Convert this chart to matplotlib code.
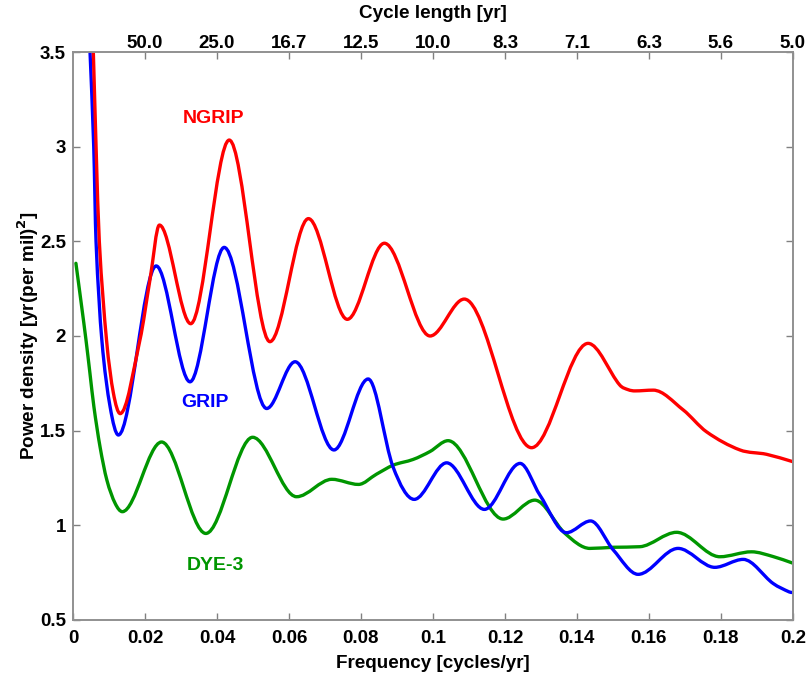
import numpy as np
import matplotlib
matplotlib.use('Agg')
import matplotlib.pyplot as plt
from matplotlib.path import Path
from matplotlib.patches import PathPatch

plt.rcParams['font.family'] = ['Liberation Sans', 'DejaVu Sans']
plt.rcParams['font.weight'] = 'bold'

# values (frequency in cycles/yr, power density)
ngrip_f = [0.0050, 0.00564, 0.0064, 0.0073, 0.0093, 0.0112, 0.0131, 0.0186,
           0.0214, 0.0240, 0.0327, 0.0434, 0.0547, 0.0654, 0.0762, 0.0865, 0.0992,
           0.1087, 0.1274, 0.1431, 0.1519, 0.1543, 0.1561, 0.1612,
           0.1695, 0.1760, 0.1853, 0.1927, 0.2000]
ngrip_p = [3.88, 3.50, 3.00, 2.50, 1.98, 1.70, 1.59, 1.98,
           2.30, 2.586, 2.065, 3.035, 1.97, 2.62, 2.088, 2.49, 2.00,
           2.195, 1.41, 1.961, 1.741, 1.716, 1.71, 1.714,
           1.61, 1.494, 1.398, 1.375, 1.336]

grip_f = [0.0040, 0.00472, 0.00575, 0.00639, 0.0080, 0.0103, 0.0126,
          0.0231, 0.0325, 0.0420, 0.0538, 0.0617, 0.0725, 0.0820, 0.0889,
          0.0948, 0.1038, 0.1143, 0.1242, 0.1297, 0.1371, 0.1438, 0.1501, 0.1570,
          0.1681, 0.1783, 0.1862, 0.1945, 0.1990, 0.2000]
grip_p = [3.86, 3.50, 3.00, 2.50, 1.98, 1.626, 1.477,
          2.37, 1.758, 2.468, 1.617, 1.864, 1.398, 1.773, 1.309,
          1.137, 1.33, 1.084, 1.327, 1.16, 0.961, 1.023, 0.87, 0.741,
          0.878, 0.778, 0.82, 0.693, 0.648, 0.645]

dye3_f = [0.0008, 0.0024, 0.0036, 0.0047, 0.0058, 0.0075, 0.0094, 0.0117, 0.0137,
          0.0246, 0.0369, 0.0499, 0.0621, 0.0719, 0.0793, 0.0843,
          0.0890, 0.0945, 0.0992, 0.1042, 0.1195, 0.1283, 0.1367,
          0.1436, 0.1501, 0.1575, 0.1677, 0.1797, 0.1885, 0.1945, 0.2000]
dye3_p = [2.384, 2.155, 1.979, 1.803, 1.626, 1.415, 1.239, 1.116, 1.072,
          1.44, 0.957, 1.465, 1.151, 1.243, 1.216, 1.27,
          1.318, 1.348, 1.39, 1.447, 1.033, 1.133, 0.957,
          0.878, 0.884, 0.887, 0.963, 0.834, 0.86, 0.835, 0.80]

x_ticks = [0, 0.02, 0.04, 0.06, 0.08, 0.1, 0.12, 0.14, 0.16, 0.18, 0.2]
x_ticklabels = ['0', '0.02', '0.04', '0.06', '0.08', '0.1', '0.12', '0.14', '0.16', '0.18', '0.2']
y_ticks = [0.5, 1, 1.5, 2, 2.5, 3, 3.5]
y_ticklabels = ['0.5', '1', '1.5', '2', '2.5', '3', '3.5']
top_ticks = [0.02, 0.04, 0.06, 0.08, 0.1, 0.12, 0.14, 0.16, 0.18, 0.2]
top_ticklabels = ['50.0', '25.0', '16.7', '12.5', '10.0', '8.3', '7.1', '6.3', '5.6', '5.0']


def smooth_path(x, y):
    # bezier curve through the read points, flat tangent at local extrema
    x = np.asarray(x, float)
    y = np.asarray(y, float)
    h = np.diff(x)
    d = np.diff(y) / h
    m = np.zeros_like(x)
    m[0], m[-1] = d[0], d[-1]
    for k in range(1, len(x) - 1):
        if d[k - 1] * d[k] > 0:
            m[k] = (y[k + 1] - y[k - 1]) / (x[k + 1] - x[k - 1])
            # keep it from overshooting
            lim = 3 * min(abs(d[k - 1]), abs(d[k]))
            if abs(m[k]) > lim:
                m[k] = np.sign(m[k]) * lim
    verts = [(x[0], y[0])]
    codes = [Path.MOVETO]
    for k in range(len(x) - 1):
        verts += [(x[k] + h[k] / 3, y[k] + m[k] * h[k] / 3),
                  (x[k + 1] - h[k] / 3, y[k + 1] - m[k + 1] * h[k] / 3),
                  (x[k + 1], y[k + 1])]
        codes += [Path.CURVE4] * 3
    return Path(verts, codes)


fig = plt.figure(figsize=(8.07, 6.73), dpi=100)
ax = fig.add_axes([0.0905, 0.0788, 0.892, 0.8439])

red = '#ff0000'
blue = '#0000ff'
green = '#009600'

for f, p, c in [(dye3_f, dye3_p, green), (grip_f, grip_p, blue), (ngrip_f, ngrip_p, red)]:
    ax.add_patch(PathPatch(smooth_path(f, p), fill=False, edgecolor=c, lw=2.4,
                           joinstyle='round', capstyle='round'))

ax.set_xlim(0, 0.2)
ax.set_ylim(0.5, 3.5)
ax.set_xticks(x_ticks)
ax.set_xticklabels(x_ticklabels)
ax.set_yticks(y_ticks)
ax.set_yticklabels(y_ticklabels)
ax.tick_params(axis='x', pad=7)
ax.tick_params(direction='in', length=5, width=1, color='#808080', labelsize=13.5,
               right=True, top=False)
ax.tick_params(axis='y', pad=5)
for s in ax.spines.values():
    s.set_color('#909090')
    s.set_linewidth(1.2)

ax.set_xlabel('Frequency [cycles/yr]', fontsize=13.6, fontweight='bold', labelpad=6)
ax.set_ylabel('Power density [yr(per mil)$^\\mathbf{2}$]', fontsize=13.6, fontweight='bold', labelpad=-1)

ax2 = ax.twiny()
ax2.set_xlim(0, 0.2)
ax2.set_xticks(top_ticks)
ax2.set_xticklabels(top_ticklabels)
ax2.tick_params(direction='in', length=5, width=1, color='#808080', labelsize=13.5, pad=0)
for s in ax2.spines.values():
    s.set_color('#909090')
    s.set_linewidth(1.2)
ax2.set_xlabel('Cycle length [yr]', fontsize=13.6, fontweight='bold', labelpad=12)

ax.text(0.0389, 3.151, 'NGRIP', color=red, fontsize=14, fontweight='bold', ha='center', va='center')
ax.text(0.0367, 1.651, 'GRIP', color=blue, fontsize=14, fontweight='bold', ha='center', va='center')
ax.text(0.0397, 0.79, 'DYE-3', color=green, fontsize=14, fontweight='bold', ha='center', va='center')

fig.savefig('out.png', dpi=100)
